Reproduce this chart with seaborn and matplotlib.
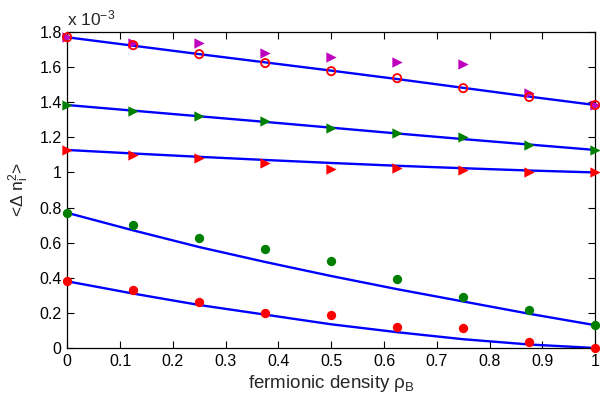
import numpy as np
import pandas as pd
import matplotlib
matplotlib.use("Agg")
import matplotlib.pyplot as plt
import seaborn as sns

# fermionic density values (x axis)
rho_b = [0, 0.125, 0.25, 0.375, 0.5, 0.625, 0.75, 0.875, 1.0]

# data in units of 1e-3
magenta_tri = [1.77, 1.737, 1.737, 1.68, 1.657, 1.629, 1.617, 1.452, 1.384]
red_ring = [1.77, 1.725, 1.674, 1.623, 1.577, 1.537, 1.48, 1.43, 1.384]
green_tri = [1.384, 1.35, 1.32, 1.293, 1.253, 1.224, 1.2, 1.156, 1.128]
red_tri = [1.128, 1.10, 1.082, 1.054, 1.02, 1.025, 1.014, 1.002, 1.0]
green_dot = [0.769, 0.70, 0.626, 0.564, 0.495, 0.393, 0.29, 0.216, 0.131]
red_dot = [0.382, 0.33, 0.262, 0.20, 0.188, 0.12, 0.114, 0.034, 0.0]

# blue curves (fits)
fit_top = [1.77, 1.722, 1.674, 1.627, 1.58, 1.532, 1.482, 1.432, 1.384]
fit_green = [1.384, 1.352, 1.32, 1.288, 1.255, 1.222, 1.19, 1.159, 1.128]
fit_redtri = [1.128, 1.108, 1.089, 1.071, 1.054, 1.038, 1.024, 1.011, 1.0]
fit_greendot = [0.77, 0.67, 0.575, 0.49, 0.41, 0.335, 0.265, 0.195, 0.13]
fit_reddot = [0.38, 0.31, 0.245, 0.19, 0.135, 0.09, 0.05, 0.02, 0.0]

sns.set_style("ticks")
plt.rcParams['font.family'] = ['Liberation Sans', 'DejaVu Sans']
plt.rcParams['mathtext.fontset'] = 'custom'
plt.rcParams['mathtext.rm'] = 'Liberation Sans'
plt.rcParams['mathtext.it'] = 'Liberation Sans'

fig = plt.figure(figsize=(6, 4), dpi=100)
ax = fig.add_axes([0.112, 0.13, 0.88, 0.79])

fits = [fit_top, fit_green, fit_redtri, fit_greendot, fit_reddot]
for f in fits:
    df = pd.DataFrame({'x': rho_b, 'y': f})
    sns.lineplot(data=df, x='x', y='y', ax=ax, color='#0000ff', lw=1.7,
                 zorder=2)

# markers
sns.scatterplot(x=rho_b, y=magenta_tri, ax=ax, marker='>', color='#bf00bf',
                s=55, edgecolor='#bf00bf', linewidth=0, zorder=3, clip_on=False)
sns.scatterplot(x=rho_b, y=green_tri, ax=ax, marker='>', color='#008000',
                s=55, edgecolor='#008000', linewidth=0, zorder=3, clip_on=False)
sns.scatterplot(x=rho_b, y=red_tri, ax=ax, marker='>', color='#ff0000',
                s=55, edgecolor='#ff0000', linewidth=0, zorder=3, clip_on=False)
sns.scatterplot(x=rho_b, y=green_dot, ax=ax, marker='o', color='#008000',
                s=45, edgecolor='#008000', linewidth=0, zorder=3, clip_on=False)
sns.scatterplot(x=rho_b, y=red_dot, ax=ax, marker='o', color='#ff0000',
                s=45, edgecolor='#ff0000', linewidth=0, zorder=3, clip_on=False)
sns.scatterplot(x=rho_b, y=red_ring, ax=ax, marker='o', facecolor='none',
                s=35, edgecolor='#ff0000', linewidth=1.3, zorder=4, clip_on=False)

ax.set_xlim(0, 1)
ax.set_ylim(0, 1.8)
ax.set_xticks(np.arange(0, 1.01, 0.1))
ax.set_xticklabels(['0', '0.1', '0.2', '0.3', '0.4', '0.5', '0.6', '0.7',
                    '0.8', '0.9', '1'])
ax.set_yticks(np.arange(0, 1.81, 0.2))
ax.set_yticklabels(['0', '0.2', '0.4', '0.6', '0.8', '1', '1.2', '1.4',
                    '1.6', '1.8'])
ax.tick_params(direction='in', top=True, right=True, length=5, width=0.8,
               labelsize=11.5, colors='black', pad=4)
for sp in ax.spines.values():
    sp.set_visible(True)
    sp.set_linewidth(0.9)
    sp.set_color('black')

ax.set_xlabel(r'fermionic density $\rho_B$', fontsize=13.5, labelpad=3)
ax.set_ylabel(r'<Δ n$_i^2$>', fontsize=12.5, labelpad=6)
ax.text(0.0, 1.012, r'x 10$^{-3}$', transform=ax.transAxes, fontsize=12.5,
        ha='left', va='bottom')

fig.savefig('out.png', dpi=100)
